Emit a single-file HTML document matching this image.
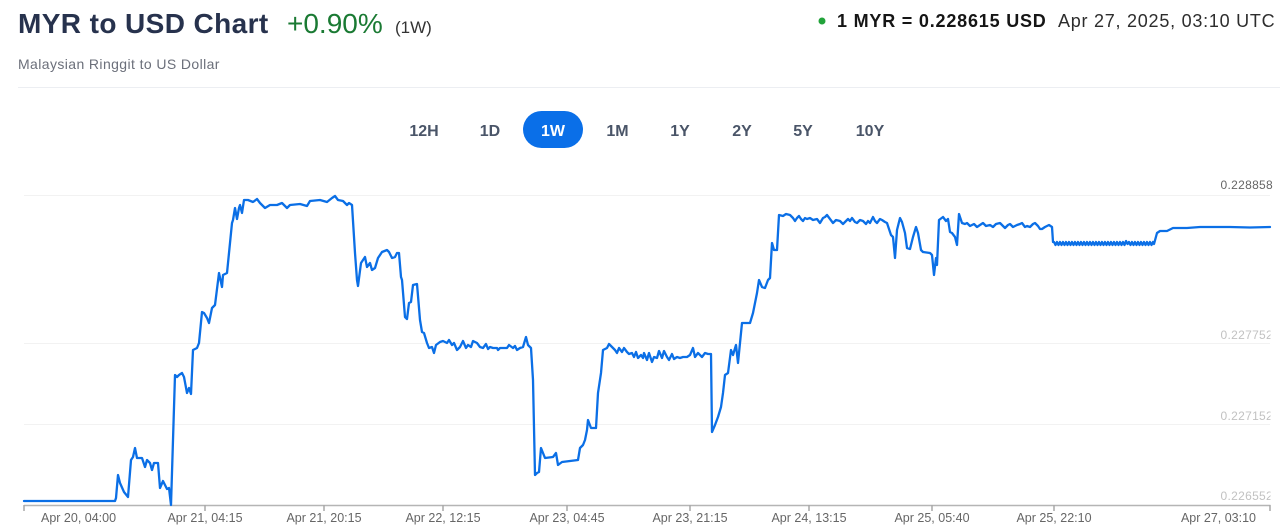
<!DOCTYPE html>
<html>
<head>
<meta charset="utf-8">
<style>
  html, body { margin: 0; padding: 0; background: #ffffff; }
  body { width: 1280px; height: 528px; overflow: hidden; }
  svg { display: block; font-family: "Liberation Sans", Arial, sans-serif; }
</style>
</head>
<body>
<svg width="1280" height="528" viewBox="0 0 1280 528" xmlns="http://www.w3.org/2000/svg">
  <defs>
    <clipPath id="ylab"><rect x="0" y="0" width="1270.5" height="528"/></clipPath>
  </defs>

  <!-- Header -->
  <text x="18" y="33" font-size="28" font-weight="bold" fill="#27324d" letter-spacing="0.4">MYR to USD Chart</text>
  <text x="287" y="33" font-size="28" fill="#1a7a33">+0.90%</text>
  <text x="395" y="33" font-size="17" fill="#333333">(1W)</text>
  <text x="18" y="69" font-size="14" fill="#6b6f7a" letter-spacing="0.4">Malaysian Ringgit to US Dollar</text>

  <circle cx="822" cy="21" r="3.5" fill="#22a33a"/>
  <text x="837" y="27" font-size="18" font-weight="bold" fill="#151515" letter-spacing="0.8">1 MYR = 0.228615 USD</text>
  <text x="1058" y="27" font-size="18" fill="#2d2d2d" letter-spacing="0.75">Apr 27, 2025, 03:10 UTC</text>

  <line x1="18" y1="87.5" x2="1280" y2="87.5" stroke="#eceef2" stroke-width="1"/>

  <!-- Range buttons -->
  <rect x="523" y="111" width="60" height="37" rx="18.5" fill="#0a6fe8"/>
  <g font-size="16" font-weight="bold" fill="#4a5568" text-anchor="middle">
    <text x="424" y="136">12H</text>
    <text x="490" y="136">1D</text>
    <text x="553" y="136" fill="#ffffff">1W</text>
    <text x="617.5" y="136">1M</text>
    <text x="680" y="136">1Y</text>
    <text x="742" y="136">2Y</text>
    <text x="803" y="136">5Y</text>
    <text x="870" y="136">10Y</text>
  </g>

  <!-- Grid -->
  <g stroke="#f2f2f2" stroke-width="1">
    <line x1="24" y1="195.5" x2="1270" y2="195.5"/>
    <line x1="24" y1="343.5" x2="1270" y2="343.5"/>
    <line x1="24" y1="424.5" x2="1270" y2="424.5"/>
  </g>

  <!-- Y labels -->
  <g font-size="12" text-anchor="end" letter-spacing="0.3">
    <text x="1273" y="189" fill="#666666">0.228858</text>
    <g clip-path="url(#ylab)" fill="#c2c2c2">
      <text x="1273" y="339">0.227752</text>
      <text x="1273" y="420">0.227152</text>
      <text x="1273" y="500">0.226552</text>
    </g>
  </g>

  <!-- Axis -->
  <line x1="24" y1="505.5" x2="1270.5" y2="505.5" stroke="#b5b5b5" stroke-width="1.5"/>
  <g stroke="#a8a8a8" stroke-width="1.5">
    <line x1="24" y1="505" x2="24" y2="511"/>
    <line x1="205" y1="505" x2="205" y2="511"/>
    <line x1="324" y1="505" x2="324" y2="511"/>
    <line x1="443" y1="505" x2="443" y2="511"/>
    <line x1="567" y1="505" x2="567" y2="511"/>
    <line x1="690" y1="505" x2="690" y2="511"/>
    <line x1="809" y1="505" x2="809" y2="511"/>
    <line x1="932" y1="505" x2="932" y2="511"/>
    <line x1="1054" y1="505" x2="1054" y2="511"/>
    <line x1="1270" y1="505" x2="1270" y2="511"/>
  </g>

  <!-- X labels -->
  <g font-size="12.5" fill="#666666" text-anchor="middle">
    <text x="41" y="522" text-anchor="start">Apr 20, 04:00</text>
    <text x="205" y="522">Apr 21, 04:15</text>
    <text x="324" y="522">Apr 21, 20:15</text>
    <text x="443" y="522">Apr 22, 12:15</text>
    <text x="567" y="522">Apr 23, 04:45</text>
    <text x="690" y="522">Apr 23, 21:15</text>
    <text x="809" y="522">Apr 24, 13:15</text>
    <text x="932" y="522">Apr 25, 05:40</text>
    <text x="1054" y="522">Apr 25, 22:10</text>
    <text x="1256" y="522" text-anchor="end">Apr 27, 03:10</text>
  </g>

  <!-- Series -->
  <polyline fill="none" stroke="#0b6fe6" stroke-width="2.3" stroke-linejoin="round" stroke-linecap="round" points="
24,501 115,501 116,498 118,475 120,483 124,492 128,497 131,460 133,457 135,448 137,458 142,458 145,467 147,460 150,463 152,470 154,463 158,463 160,488 163,481 167,489 169,488 171,505 175,375 177,377 179,375 182,373 184,377 187,393 189,388 191,394 193,350 197,348 199,343 202,312 204,313 207,318 209,323 212,308 215,305 219,273 222,287 223,275 227,273 228,263 232,223 233,220 235,208 237,219 239,208 240,205 242,213 244,200 248,200 253,202 257,199 260,203 265,208 270,205 277,205 282,203 287,208 290,205 300,204 307,206 310,201 320,200 327,202 332,198 335,196 338,200 343,201 347,205 349,203 352,205 355,253 357,280 358,286 361,263 363,260 365,257 367,267 370,263 372,270 375,268 378,258 382,252 387,250 389,252 392,258 395,257 397,253 399,253 401,277 402,280 405,317 407,319 409,303 411,302 413,285 417,284 419,308 420,320 422,332 424,333 427,343 429,348 432,347 434,353 436,345 440,342 443,341 447,343 449,340 452,345 454,343 457,350 460,347 463,341 466,348 468,345 471,347 473,341 477,343 480,347 483,348 486,344 488,349 490,347 493,348 497,348 498,350 500,348 503,348 507,348 509,345 513,348 515,346 517,350 520,348 523,347 526,337 528,345 531,348 533,380 535,475 537,473 539,472 541,448 543,453 545,458 553,457 556,453 558,465 562,462 570,461 578,460 580,448 583,445 585,440 587,430 588,420 591,428 596,428 598,393 601,373 603,350 607,348 609,344 613,348 615,350 617,353 619,348 622,352 624,348 627,352 629,354 632,353 634,357 636,352 638,358 641,355 643,358 644,353 647,360 649,353 652,362 654,357 657,358 659,351 662,358 664,351 667,357 669,360 672,354 674,359 677,357 680,358 683,357 687,357 690,355 693,348 695,357 698,353 702,357 705,353 708,354 711,354 712,432 715,425 718,417 721,407 723,393 725,375 728,373 731,350 733,355 736,345 738,363 742,323 747,323 750,323 753,313 757,293 759,280 762,287 765,288 768,280 770,278 772,243 774,250 777,250 779,215 783,216 786,214 790,215 793,218 795,221 797,218 799,216 801,219 803,221 805,218 807,219 810,218 813,220 817,219 820,223 823,218 825,217 827,215 830,219 833,223 836,220 840,221 843,224 845,222 848,219 850,221 852,218 855,222 857,223 860,220 863,221 866,224 868,221 870,223 873,217 875,221 877,223 880,219 882,220 885,222 887,223 891,235 893,237 895,258 897,230 900,218 902,222 905,233 907,248 910,249 913,237 916,227 918,233 921,250 923,252 930,253 932,255 934,275 936,258 937,265 939,220 943,217 946,221 948,219 950,232 952,233 955,237 957,245 959,214 962,223 965,224 967,223 970,226 974,224 977,227 980,225 983,223 986,226 990,225 993,227 996,224 1000,223 1003,226 1005,228 1008,225 1010,224 1013,227 1017,225 1020,224 1022,223 1025,227 1027,226 1030,227 1033,224 1035,223 1038,226 1040,229 1042,229 1045,227 1049,225 1052,227 1053,242
1054,242 1055.5,245 1057,242 1058.5,245 1060,242 1061.5,245 1063,242 1064.5,245 1066,242 1067.5,245 1069,242 1070.5,245 1072,242 1073.5,245 1075,242 1076.5,245 1078,242 1079.5,245 1081,242 1082.5,245 1084,242 1085.5,245 1087,242 1088.5,245 1090,242 1091.5,245 1093,242 1094.5,245 1096,242 1097.5,245 1099,242 1100.5,245 1102,242 1103.5,245 1105,242 1106.5,245 1108,242 1109.5,245 1111,242 1112.5,245 1114,242 1115.5,245 1117,242 1118.5,245 1120,242 1121.5,245 1123,242 1124.5,245 1126,241 1127.5,244 1129,242 1130.5,245 1132,242 1133.5,245 1135,242 1136.5,245 1138,242 1139.5,245 1141,242 1142.5,245 1144,242 1145.5,245 1147,242 1148.5,245 1150,242 1151.5,245 1153,242 1154,244
1157,233 1160,231 1167,231 1173,228 1187,228 1200,227 1230,227 1250,227.5 1270,227"/>
</svg>
</body>
</html>
